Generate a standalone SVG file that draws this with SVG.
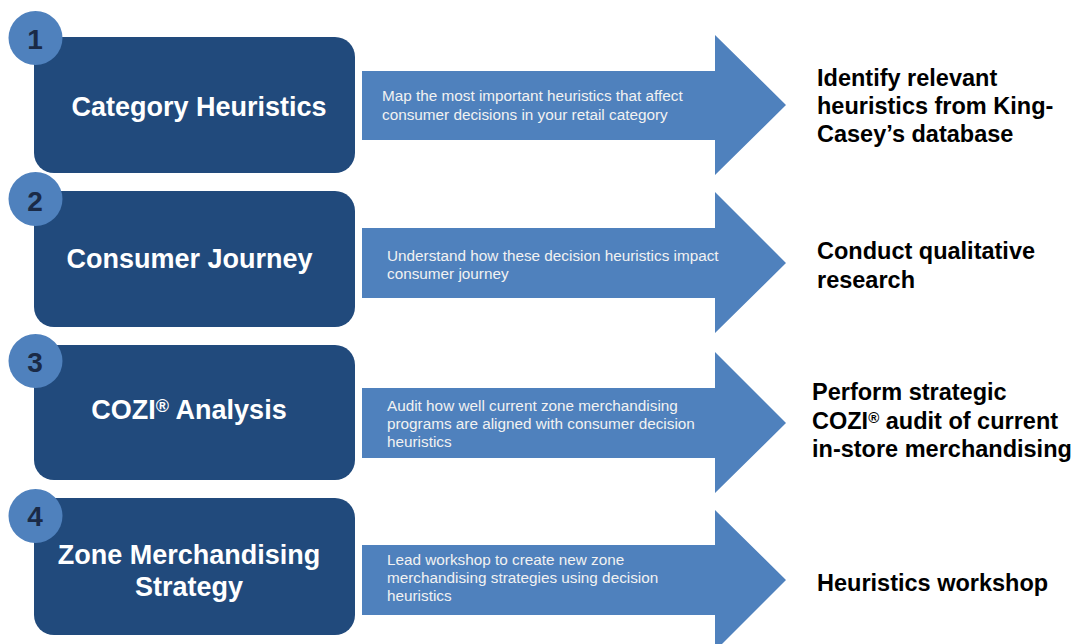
<svg xmlns="http://www.w3.org/2000/svg" width="1075" height="644" viewBox="0 0 1075 644">
<style>
.box{fill:#214a7c;}
.num{fill:#4f81bd;}
.arrow{fill:#4f81bd;}
.title{font-family:"Liberation Sans",Arial,sans-serif;font-weight:bold;font-size:27px;fill:#ffffff;text-anchor:middle;}
.numt{font-family:"Liberation Sans",Arial,sans-serif;font-weight:bold;font-size:28px;fill:#1a2a46;text-anchor:middle;}
.desc{font-family:"Liberation Sans",Arial,sans-serif;font-size:15.3px;fill:#f2f2f2;}
.out{font-family:"Liberation Sans",Arial,sans-serif;font-weight:bold;font-size:23.5px;fill:#000000;}
.sup{font-size:15px;}
</style>
<rect width="1075" height="644" fill="#ffffff"/>
<g id="connectors">
<polygon class="arrow" points="362,71 715,71 715,35 786,105 715,175 715,140 362,140"/>
<polygon class="arrow" points="362,228 715,228 715,192 786,263 715,333 715,298 362,298"/>
<polygon class="arrow" points="362,388 715,388 715,352 786,423 715,493 715,458 362,458"/>
<polygon class="arrow" points="362,545 715,545 715,510 786,580 715,651 715,615 362,615"/>
</g>
<g id="step1">
<rect class="box" x="34" y="37" width="321" height="136" rx="20"/>
<circle class="num" cx="35.5" cy="38" r="27"/>
<text class="numt" x="35" y="49">1</text>
<text class="title" x="199" y="116">Category Heuristics</text>
</g>
<g id="step2">
<rect class="box" x="34" y="191" width="321" height="136" rx="20"/>
<circle class="num" cx="35.5" cy="199" r="27"/>
<text class="numt" x="35" y="211">2</text>
<text class="title" x="189.5" y="268">Consumer Journey</text>
</g>
<g id="step3">
<rect class="box" x="34" y="345" width="321" height="135" rx="20"/>
<circle class="num" cx="35.5" cy="361" r="27"/>
<text class="numt" x="35" y="372">3</text>
<text class="title" x="189" y="419">COZI<tspan baseline-shift="40%" font-size="18px">®</tspan> Analysis</text>
</g>
<g id="step4">
<rect class="box" x="34" y="498" width="321" height="137" rx="20"/>
<circle class="num" cx="35.5" cy="516" r="27"/>
<text class="numt" x="35" y="526">4</text>
<text class="title" x="189" y="564">Zone Merchandising</text>
<text class="title" x="189" y="596">Strategy</text>
</g>
<g id="desc1">
<text class="desc" x="382" y="101">Map the most important heuristics that affect</text>
<text class="desc" x="382" y="119.5">consumer decisions in your retail category</text>
</g>
<g id="desc2">
<text class="desc" x="387" y="260.5">Understand how these decision heuristics impact</text>
<text class="desc" x="387" y="279">consumer journey</text>
</g>
<g id="desc3">
<text class="desc" x="387" y="411">Audit how well current zone merchandising</text>
<text class="desc" x="387" y="429">programs are aligned with consumer decision</text>
<text class="desc" x="387" y="447">heuristics</text>
</g>
<g id="desc4">
<text class="desc" x="387" y="565">Lead workshop to create new zone</text>
<text class="desc" x="387" y="583">merchandising strategies using decision</text>
<text class="desc" x="387" y="601">heuristics</text>
</g>
<g id="out1">
<text class="out" x="817" y="85.5">Identify relevant</text>
<text class="out" x="817" y="113.5">heuristics from King-</text>
<text class="out" x="817" y="141.5">Casey’s database</text>
</g>
<g id="out2">
<text class="out" x="817" y="259">Conduct qualitative</text>
<text class="out" x="817" y="287.5">research</text>
</g>
<g id="out3">
<text class="out" x="812" y="400">Perform strategic</text>
<text class="out" x="812" y="428.5">COZI<tspan class="sup" baseline-shift="40%">®</tspan> audit of current</text>
<text class="out" x="812" y="457">in-store merchandising</text>
</g>
<g id="out4">
<text class="out" x="817" y="591">Heuristics workshop</text>
</g>
</svg>
